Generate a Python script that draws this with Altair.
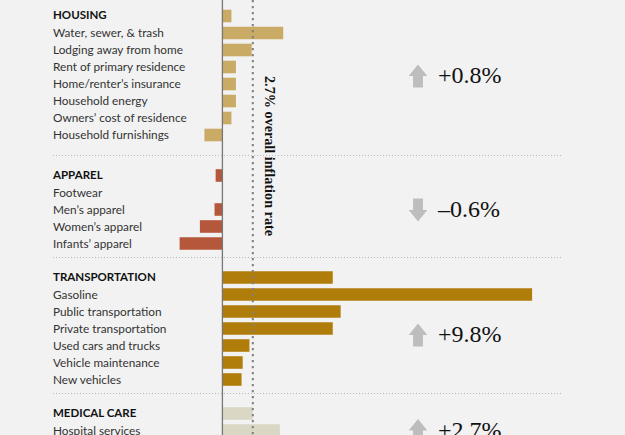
import altair as alt
import pandas as pd

# Category rows and 12-month price changes (%), grouped by spending category
housing_items = [
    "Water, sewer, & trash",
    "Lodging away from home",
    "Rent of primary residence",
    "Home/renter’s insurance",
    "Household energy",
    "Owners’ cost of residence",
    "Household furnishings",
]
housing_values = [5.4, 2.6, 1.2, 1.2, 1.2, 0.8, -1.6]

apparel_items = ["Footwear", "Men’s apparel", "Women’s apparel", "Infants’ apparel"]
apparel_values = [0.0, -0.7, -2.0, -3.8]

transport_items = [
    "Gasoline",
    "Public transportation",
    "Private transportation",
    "Used cars and trucks",
    "Vehicle maintenance",
    "New vehicles",
]
transport_values = [27.5, 10.5, 9.8, 2.4, 1.8, 1.7]

medical_items = ["Hospital services"]
medical_values = [5.1]

group_names = ["HOUSING", "APPAREL", "TRANSPORTATION", "MEDICAL CARE"]
group_totals = [0.8, -0.6, 9.8, 2.7]
group_colors = ["#C9AB66", "#B5573A", "#B07D0B", "#DAD7C4"]
overall_rate = 2.7

group_items = [housing_items, apparel_items, transport_items, medical_items]
group_values = [housing_values, apparel_values, transport_values, medical_values]

# Build the row table: header row, item rows, then an empty gap row between groups
records = []
for gi, (name, total) in enumerate(zip(group_names, group_totals)):
    records.append({"label": name, "value": total, "group": name, "kind": "header"})
    for item, val in zip(group_items[gi], group_values[gi]):
        records.append({"label": item, "value": val, "group": name, "kind": "item"})
    if gi < len(group_names) - 1:
        records.append({"label": f"gap{gi}", "value": None, "group": name, "kind": "gap"})
rows = pd.DataFrame(records)
row_order = list(rows["label"])

W, H = 625, 435
STEP = 17
TOP = 14

y_scale = alt.Scale(
    domain=row_order,
    range=[TOP, TOP + STEP * len(row_order)],
    paddingInner=0.26,
    paddingOuter=0.13,
)
x_scale = alt.Scale(domain=[-19.75, 35.75], nice=False, zero=False)
color_scale = alt.Scale(domain=group_names, range=group_colors)

Y = alt.Y("label:N", scale=y_scale, axis=None, sort=None)

# The housing block sits a little higher, with a wider gap before apparel
group_shift = {"HOUSING": -6.5}


def row_layers(test, shift):
    sub = alt.Chart(rows).transform_filter(test)
    bars = (
        sub.transform_filter("datum.kind != 'gap'")
        .mark_bar(clip=True, yOffset=shift, y2Offset=shift)
        .encode(
            y=Y,
            x=alt.X("value:Q", scale=x_scale, axis=None),
            x2=alt.datum(0),
            color=alt.Color("group:N", scale=color_scale, legend=None),
        )
    )
    headers = (
        sub.transform_filter("datum.kind == 'header'")
        .mark_text(align="left", baseline="middle", font="Lato", fontSize=11.5,
                   fontWeight="bold", color="#111111", yOffset=shift, clip=True)
        .encode(y=Y, x=alt.value(53), text="label:N")
    )
    items = (
        sub.transform_filter("datum.kind == 'item'")
        .mark_text(align="left", baseline="middle", font="Lato", fontSize=11.8,
                   color="#333333", yOffset=shift, clip=True)
        .encode(y=Y, x=alt.value(53), text="label:N")
    )
    return [bars, headers, items]


row_marks = row_layers("datum.group == 'HOUSING'", group_shift["HOUSING"])
row_marks += row_layers("datum.group != 'HOUSING'", 0)

ref = pd.DataFrame({"v": [0.0], "rate": [overall_rate]})

zero_rule = (
    alt.Chart(ref)
    .mark_rule(color="#777777", strokeWidth=1.3)
    .encode(x=alt.X("v:Q", scale=x_scale, axis=None))
)

rate_rule = (
    alt.Chart(ref)
    .mark_rule(color="#808080", strokeWidth=2, strokeDash=[2.3, 3.7])
    .encode(x=alt.X("rate:Q", scale=x_scale, axis=None))
)

separators = (
    alt.Chart(rows)
    .transform_filter("datum.kind == 'gap'")
    .mark_rule(color="#b8b8b8", strokeWidth=1, strokeDash=[1, 2], yOffset=-3)
    .encode(y=Y, x=alt.value(53), x2=alt.value(561))
)

rate_note = (
    alt.Chart(pd.DataFrame({"rate": [overall_rate], "label": ["gap0"],
                            "text": ["2.7% overall inflation rate"]}))
    .mark_text(angle=90, align="center", baseline="middle", font="Liberation Serif",
               fontSize=14.2, fontWeight="bold", color="#111111",
               xOffset=16, yOffset=-2.5)
    .encode(x=alt.X("rate:Q", scale=x_scale, axis=None), y=Y, text="text:N")
)

up_arrow = "M0,-1L0.81,0L0.43,0L0.43,1L-0.43,1L-0.43,0L-0.81,0Z"
down_arrow = "M0,1L0.81,0L0.43,0L0.43,-1L-0.43,-1L-0.43,0L-0.81,0Z"

# Row each group's summary sits beside, with a small vertical nudge
summary_anchor = {
    "HOUSING": ("Rent of primary residence", 2.5),
    "APPAREL": ("Men’s apparel", 0.5),
    "TRANSPORTATION": ("Private transportation", 6.5),
    "MEDICAL CARE": ("Hospital services", 0),
}

summary_layers = []
for name, total in zip(group_names, group_totals):
    anchor, nudge = summary_anchor[name]
    sign = "+" if total > 0 else "–"
    sdf = pd.DataFrame({
        "label": [anchor],
        "text": [f"{sign}{abs(total):.1f}%"],
        "dir": ["up" if total > 0 else "down"],
    })
    arrow = (
        alt.Chart(sdf)
        .mark_point(filled=True, size=529, color="#bdbdbd", opacity=1,
                    strokeWidth=0, yOffset=nudge, clip=True)
        .encode(
            y=Y,
            x=alt.value(418),
            shape=alt.Shape("dir:N", scale=alt.Scale(domain=["up", "down"],
                                                     range=[up_arrow, down_arrow]),
                            legend=None),
        )
    )
    label = (
        alt.Chart(sdf)
        .mark_text(align="left", baseline="middle", font="Liberation Serif",
                   fontSize=24, color="#111111", yOffset=nudge, clip=True)
        .encode(y=Y, x=alt.value(438), text="text:N")
    )
    summary_layers += [arrow, label]

chart = (
    alt.layer(separators, *row_marks, zero_rule, rate_rule, rate_note,
              *summary_layers)
    .properties(width=W, height=H, background="#F2F2F2", padding=0,
                autosize=alt.AutoSizeParams(type="none"))
    .configure_view(stroke=None)
)

chart.save("out.html", embed_options={"renderer": "svg", "actions": False})
